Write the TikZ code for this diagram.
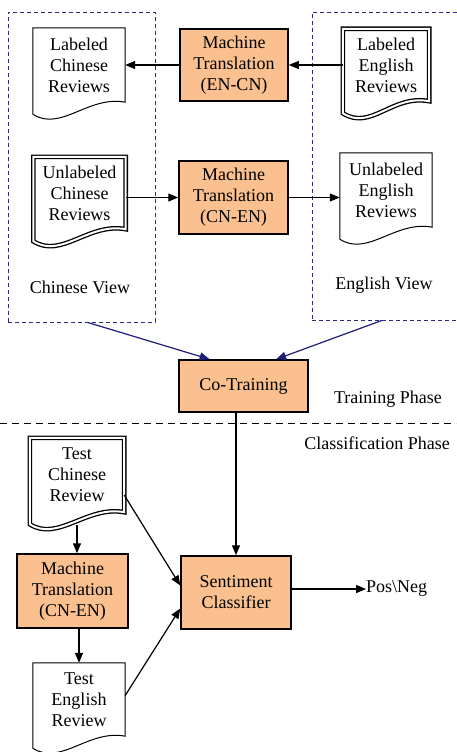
\documentclass[tikz,border=0pt]{standalone}
\usepackage{fontspec}
\setmainfont{Liberation Serif}
\usepackage{xcolor}
\usepackage{tikz}
\usetikzlibrary{arrows.meta, positioning, calc}
\definecolor{peach}   {HTML}{FAC08F}
\definecolor{viewblue}{HTML}{2B2B85}
\definecolor{navy}    {HTML}{1E1E78}

\newcommand{\docline}[2][]{%
  \draw[#1] ($(#2.south west)+(0,12)$) -- (#2.north west) -- (#2.north east)
    -- (#2.south east) .. controls +(-37,-7) and +(28,18) .. ($(#2.south west)+(0,12)$) -- cycle;}

\begin{document}
\begin{tikzpicture}[
    x=1pt, y=-1pt,
    box/.style={draw, line width=1.5pt, fill=peach, align=center,
                inner sep=0pt, font=\fontsize{18}{21}\selectfont},
    doc/.style={align=center, inner sep=0pt, minimum width=92pt,
                minimum height=74pt, font=\fontsize{18}{21}\selectfont},
    lbl/.style={inner sep=0pt, font=\fontsize{18}{21}\selectfont},
    view/.style={draw=viewblue, line width=0.8pt, dash pattern=on 4pt off 3pt},
    single/.style={line width=1pt},
    twin/.style={line width=1.3pt, double=white, double distance=2pt},
    arr/.style={-{Triangle[length=10pt, width=8pt]}, line width=1.2pt},
    barr/.style={-{Triangle[length=10pt, width=8pt]}, line width=1.2pt, color=navy},
  ]
    \useasboundingbox (0,0) rectangle (456,752);

    \node[view, minimum width=147pt, minimum height=310pt] (chview) at (81.5,167) {};
    \node[view, minimum width=146pt, minimum height=308pt] (enview) at (385,166) {};

    \node[doc] (lcr) at (79,65) {Labeled\\Chinese\\Reviews};
    \node[box, minimum width=108pt, minimum height=72pt] (mtec) at (234,65)
      {Machine\\Translation\\(EN-CN)};
    \node[doc, minimum width=86pt, minimum height=72pt] (ler) at (386,65)
      {Labeled\\English\\Reviews};

    \node[doc, minimum height=72pt] (ucr) at (79.5,193) {Unlabeled\\Chinese\\Reviews};
    \node[box, minimum width=109pt, minimum height=73pt] (mtce) at (233.5,197.5)
      {Machine\\Translation\\(CN-EN)};
    \node[doc] (uer) at (386,190) {Unlabeled\\English\\Reviews};

    \node[lbl] (chlbl) at (80,287) {Chinese View};
    \node[lbl] (enlbl) at (384,285) {English View};

    \node[box, minimum width=129pt, minimum height=52pt] (cot) at (243.5,386) {Co-Training};
    \node[lbl] (trlbl) at (388,399) {Training Phase};
    \node[lbl] (cllbl) at (377,443) {Classification Phase};

    \node[doc, minimum width=94pt] (tcr) at (77,475) {Test\\Chinese\\Review};
    \node[box, minimum width=111pt, minimum height=74pt] (mttest) at (72.5,591)
      {Machine\\Translation\\(CN-EN)};
    \node[doc, minimum height=73pt] (ter) at (79,699.5) {Test\\English\\Review};

    \node[box, minimum width=110pt, minimum height=73pt] (sc) at (236,592.5)
      {Sentiment\\Classifier};
    \node[lbl, anchor=west] (res) at (366,589) {Pos\textbackslash Neg};

    \docline[single]{lcr}
    \docline[twin]{ler}
    \docline[twin]{ucr}
    \docline[single]{uer}
    \docline[twin]{tcr}
    \docline[single]{ter}

    \draw[line width=1pt, dash pattern=on 7pt off 5pt] (0,423) -- (456,423);

    \draw[arr] (ler.west |- mtec.east)   -- (mtec.east);
    \draw[arr] (mtec.west)               -- (lcr.east |- mtec.west);
    \draw[arr] (mtce.west -| ucr.east)   -- (mtce.west);
    \draw[arr] (mtce.east)               -- (uer.west |- mtce.east);
    \draw[barr] ([xshift=6pt]chview.south) -- ($(cot.north west)!0.24!(cot.north east)$);
    \draw[barr] ([xshift=-3pt]enview.south) -- ($(cot.north west)!0.75!(cot.north east)$);
    \draw[arr] (sc.north |- cot.south)   -- (sc.north);
    \draw[arr] ([yshift=-13pt]tcr.south) -- (tcr.south |- mttest.north);
    \draw[arr] (mttest.south -| ter)     -- (ter.north);
    \draw[arr] ([yshift=-20pt]tcr.east)  -- ([yshift=7pt]sc.west);
    \draw[arr] ([yshift=4pt]ter.east)    -- ([yshift=-16pt]sc.west);
    \draw[arr] (sc.east |- res.west)     -- (res.west);
  \end{tikzpicture}
\end{document}
